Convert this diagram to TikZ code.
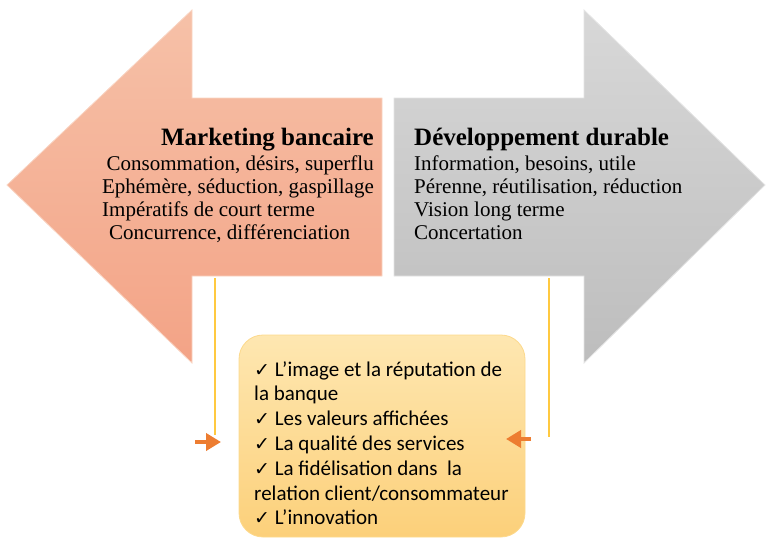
\documentclass[tikz,border=0pt]{standalone}
\usepackage{fontspec}
\setmainfont{Liberation Serif}
\newfontfamily\boxfont{Carlito}
\newfontfamily\symfont{DejaVu Sans}
\usetikzlibrary{arrows.meta}

\definecolor{salmonTop}{HTML}{F6C1A8}
\definecolor{salmonBot}{HTML}{F3A386}
\definecolor{greyTop}{HTML}{D8D8D8}
\definecolor{greyBot}{HTML}{BDBDBD}
\definecolor{boxTop}{HTML}{FEE7B1}
\definecolor{boxBot}{HTML}{FCD07A}
\definecolor{boxEdge}{HTML}{FCD98C}
\definecolor{linkLine}{HTML}{FFC940}
\definecolor{pointer}{HTML}{ED7D31}

\newcommand{\tick}{{\symfont\fontsize{19}{19}\selectfont ✓}\ }

\tikzset{
  headtitle/.style={font=\bfseries\fontsize{25}{28}\selectfont, inner sep=0pt},
  headline/.style={font=\fontsize{21}{24}\selectfont, inner sep=0pt},
  linkline/.style={draw=linkLine, line width=1.3pt},
  pointerarrow/.style={draw=pointer, line width=4.3pt,
    -{Triangle[length=15pt,width=17pt]}},
}

\begin{document}
\begin{tikzpicture}[x=1pt,y=-1pt]
\useasboundingbox (0,0) rectangle (766,538);

% left block arrow
\path[top color=salmonTop, bottom color=salmonBot, draw=salmonTop!70!white, line width=0.8pt]
  (7,185) -- (192,10) -- (192,98) -- (382,98) -- (382,276) -- (192,276) -- (192,363) -- cycle;

% right block arrow
\path[top color=greyTop, bottom color=greyBot, draw=greyTop!70!white, line width=0.8pt]
  (394,98) -- (584,98) -- (584,10) -- (765,185) -- (584,363) -- (584,276) -- (394,276) -- cycle;

% text of the left arrow
\node[headtitle, anchor=base east] (mTitle) at (374,145) {Marketing bancaire};
\node[headline, anchor=base east] (m1) at (374,170) {Consommation, désirs, superflu};
\node[headline, anchor=base east] (m2) at (374,193) {Ephémère, séduction, gaspillage};
\node[headline, anchor=base west] (m3) at (102,216) {Impératifs de court terme};
\node[headline, anchor=base west] (m4) at (109,239) {Concurrence, différenciation};

% text of the right arrow
\node[headtitle, anchor=base west] (dTitle) at (414,145) {Développement durable};
\node[headline, anchor=base west] (d1) at (414,170) {Information, besoins, utile};
\node[headline, anchor=base west] (d2) at (414,193) {Pérenne, réutilisation, réduction};
\node[headline, anchor=base west] (d3) at (414,216) {Vision long terme};
\node[headline, anchor=base west] (d4) at (414,239) {Concertation};

% central box
\path[top color=boxTop, bottom color=boxBot, draw=boxEdge, line width=0.8pt, rounded corners=24pt]
  (239,335) rectangle (525,537);
\node[anchor=north west, inner sep=0pt, align=left,
      font=\boxfont\fontsize{21}{24.8}\selectfont] (enjeux) at (254,361)
  {\tick L’image et la réputation de\\
   la banque\\
   \tick Les valeurs affichées\\
   \tick La qualité des services\\
   \tick La fidélisation dans\ \ la\\
   relation client/consommateur\\
   \tick L’innovation};

% links from the arrows down towards the box
\coordinate (lTop) at (215,278);
\coordinate (lBot) at (215,435);
\coordinate (rTop) at (549,278);
\coordinate (rBot) at (549,437);
\draw[linkline] (lTop) -- (lBot);
\draw[linkline] (rTop) -- (rBot);

\coordinate (lFrom) at (195,442);
\coordinate (lTo) at (221,442);
\coordinate (rFrom) at (531,439);
\coordinate (rTo) at (506,439);
\draw[pointerarrow] (lFrom) -- (lTo);
\draw[pointerarrow] (rFrom) -- (rTo);
\end{tikzpicture}
\end{document}
